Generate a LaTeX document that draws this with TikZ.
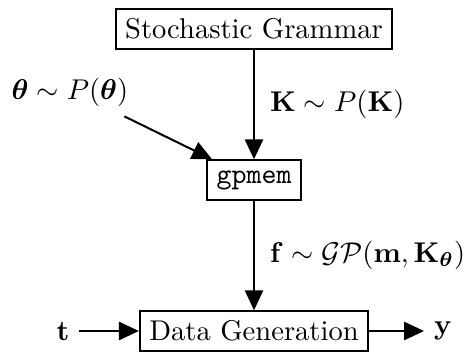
\documentclass[tikz,border=0pt]{standalone}
\usepackage{amsmath, amssymb}
\usepackage{bm}
\usepackage{tikz}
\usetikzlibrary{arrows.meta}

\tikzset{
  block/.style={draw, line width=0.7pt, inner xsep=3.3pt, inner ysep=0pt, minimum height=13.8pt},
  flow/.style={line width=0.7pt, -{Triangle[width=6.4pt,length=7pt]}}
}

\begin{document}
\begin{tikzpicture}[x=0.35pt, y=-0.35pt]
% Coordinate model: units are pixels of the sketch, y grows downward.
\useasboundingbox (0,0) rectangle (466,352);

% --- Blocks ---
\node[block] (grammar) at (254,29)  {Stochastic Grammar};
\node[block] (gpmem)   at (254,180) {\texttt{gpmem}};
\node[block] (datagen) at (254,331) {Data Generation};

% --- Free variables ---
\node (theta) at (70,92)  {$\bm{\theta} \sim P(\bm{\theta})$};
\node (tin)   at (63,331) {$\mathbf{t}$};
\node (yout)  at (443,331) {$\mathbf{y}$};

% --- Flow ---
\draw[flow] (grammar) -- node[right, xshift=2pt] {$\mathbf{K} \sim P(\mathbf{K})$} (gpmem);
\draw[flow] ([shift={(-14,0)}]theta.south east) -- ([shift={(6,0)}]gpmem.north west);
\draw[flow] (gpmem) -- node[right, xshift=2pt] {$\mathbf{f} \sim \mathcal{GP}(\mathbf{m}, \mathbf{K}_{\bm{\theta}})$} (datagen);
\draw[flow] (tin) -- (datagen);
\draw[flow] (datagen) -- (yout);
\end{tikzpicture}
\end{document}
